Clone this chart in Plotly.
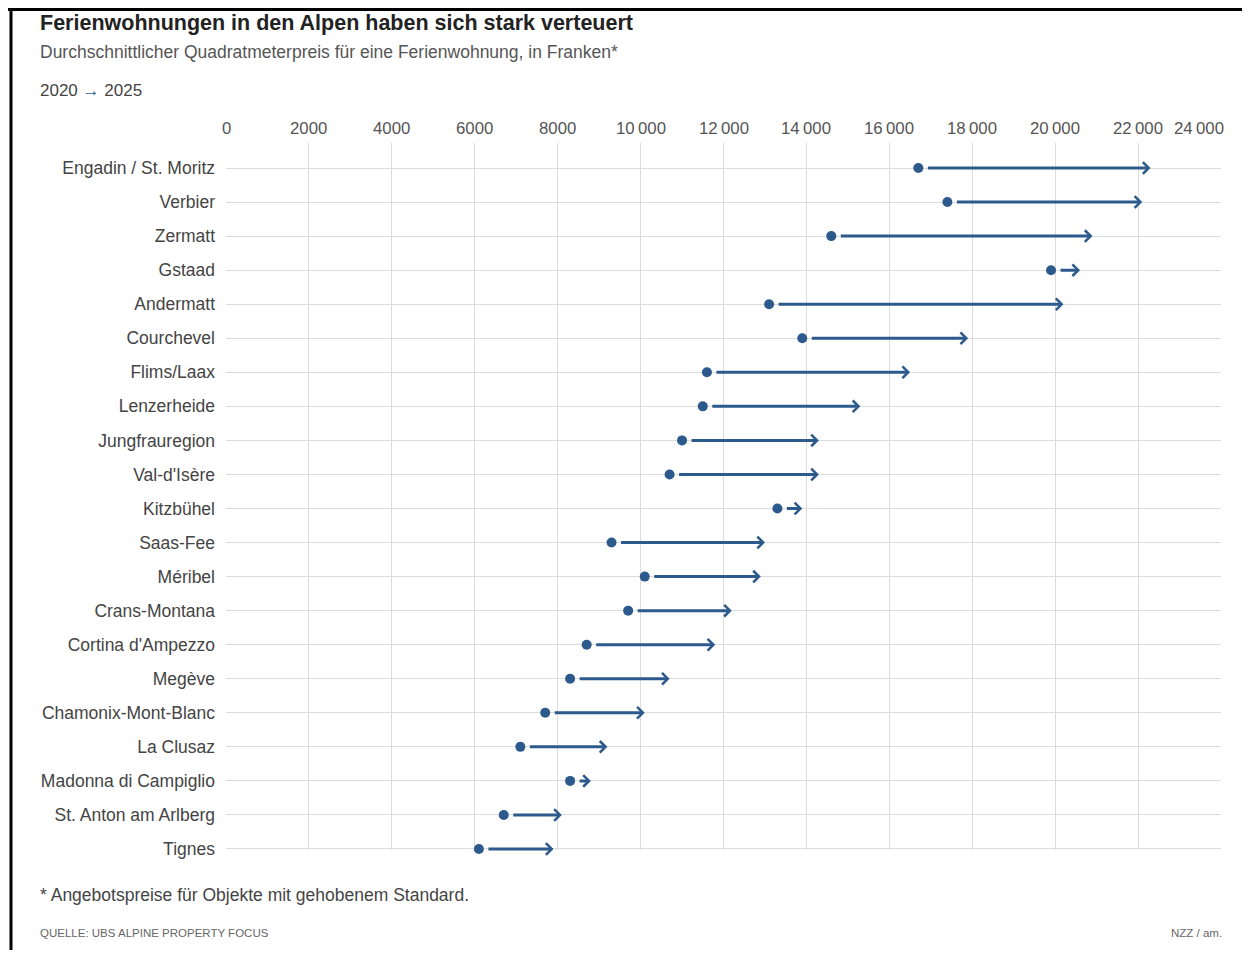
import plotly.graph_objects as go

regions = ["Engadin / St. Moritz", "Verbier", "Zermatt", "Gstaad", "Andermatt", "Courchevel",
           "Flims/Laax", "Lenzerheide", "Jungfrauregion", "Val-d'Isère", "Kitzbühel", "Saas-Fee",
           "Méribel", "Crans-Montana", "Cortina d'Ampezzo", "Megève", "Chamonix-Mont-Blanc",
           "La Clusaz", "Madonna di Campiglio", "St. Anton am Arlberg", "Tignes"]
price_2020 = [16700, 17400, 14600, 19900, 13100, 13900, 11600, 11500, 11000, 10700, 13300,
              9300, 10100, 9700, 8700, 8300, 7700, 7100, 8300, 6700, 6100]
price_2025 = [22300, 22100, 20900, 20600, 20200, 17900, 16500, 15300, 14300, 14300, 13900,
              13000, 12900, 12200, 11800, 10700, 10100, 9200, 8800, 8100, 7900]
x_tickvals = [0, 2000, 4000, 6000, 8000, 10000, 12000, 14000, 16000, 18000, 20000, 22000, 24000]
x_ticktext = ["0", "2000", "4000", "6000", "8000", "10\u2009000", "12\u2009000", "14\u2009000",
              "16\u2009000", "18\u2009000", "20\u2009000", "22\u2009000", "24\u2009000"]

BLUE = "#2c5a8c"
FONT = "Liberation Sans"
OFF = 8  # page body margin
W, H = 1250 - 2 * OFF, 958 - 2 * OFF
# plot area in reference pixels: x 226..1221, y 143..849
ML = 226 - OFF
MR = W - (1221 - OFF)
MT = 143 - OFF
MB = H - (850 - OFF)
PW, PH = W - ML - MR, H - MT - MB


def px(xp):
    return (xp - OFF - ML) / PW


def py(yp):
    return (H - MB - (yp - OFF)) / PH


rows = list(range(len(regions)))

fig = go.Figure()
fig.add_trace(go.Scatter(
    x=price_2020, y=rows, mode="markers", cliponaxis=False,
    marker=dict(size=10, color=BLUE), hoverinfo="x+text", text=regions, showlegend=False))

annotations = []
for i, (a, b) in enumerate(zip(price_2020, price_2025)):
    annotations.append(dict(
        x=b, y=i, ax=a, ay=i, xref="x", yref="y", axref="x", ayref="y",
        text="", showarrow=True, arrowhead=4, arrowwidth=3, arrowsize=0.75,
        arrowcolor=BLUE, startstandoff=8, standoff=0))

# x tick labels (top)
for k, (v, t) in enumerate(zip(x_tickvals, x_ticktext)):
    last = k == len(x_tickvals) - 1
    annotations.append(dict(
        x=v, y=py(129), xref="x", yref="paper", text=t, showarrow=False,
        xanchor="right" if last else "center", xshift=5 if last else 0, yanchor="middle",
        font=dict(family=FONT, size=16.8, color="#555555")))

texts = [
    (38, 23, "<b>Ferienwohnungen in den Alpen haben sich stark verteuert</b>", 21.5, "#222222", "left"),
    (38, 52, "Durchschnittlicher Quadratmeterpreis für eine Ferienwohnung, in Franken*", 17.5, "#555555", "left"),
    (38, 91, "2020 <span style='color:%s'>→</span> 2025" % BLUE, 17, "#444444", "left"),
    (38, 895, "* Angebotspreise für Objekte mit gehobenem Standard.", 17.5, "#444444", "left"),
    (38, 933, "QUELLE: UBS ALPINE PROPERTY FOCUS", 11.5, "#666666", "left"),
    (1224, 933, "NZZ / am.", 11.5, "#666666", "right"),
]
for xp, yp, t, s, c, anc in texts:
    annotations.append(dict(
        x=px(xp), y=py(yp), xref="paper", yref="paper", text=t, showarrow=False,
        xanchor=anc, yanchor="middle", font=dict(family=FONT, size=s, color=c)))

shapes = [
    dict(type="line", xref="paper", yref="paper", x0=px(0), x1=px(1250), y0=py(9.5), y1=py(9.5),
         line=dict(color="black", width=3)),
    dict(type="line", xref="paper", yref="paper", x0=px(11), x1=px(11), y0=py(8), y1=py(958),
         line=dict(color="black", width=3)),
]

fig.update_layout(
    width=W, height=H, margin=dict(l=ML, r=MR, t=MT, b=MB),
    paper_bgcolor="white", plot_bgcolor="white",
    font=dict(family=FONT, color="#444444"),
    annotations=annotations, shapes=shapes,
    xaxis=dict(range=[0, 24000], side="top", tickvals=x_tickvals, showticklabels=False,
               showgrid=True, gridcolor="#dcdcdc", gridwidth=1, zeroline=False,
               showline=False, ticks=""),
    yaxis=dict(range=[20.03, -0.735], tickvals=rows, ticktext=regions,
               showgrid=True, gridcolor="#dcdcdc", gridwidth=1, zeroline=False,
               showline=False, ticks="", ticklabelstandoff=10,
               tickfont=dict(family=FONT, size=17.5, color="#444444")),
)

fig.write_html("out.html")
